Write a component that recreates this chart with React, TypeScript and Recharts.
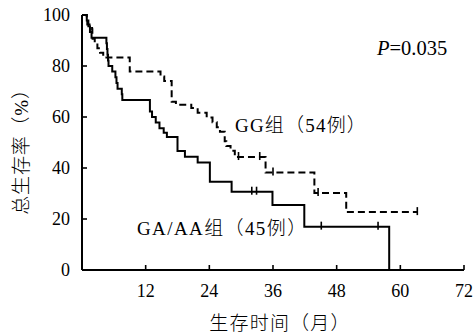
import React from 'react';
import { ComposedChart, Line, Scatter, XAxis, YAxis } from 'recharts';

const xTicks = [12, 24, 36, 48, 60, 72];
const yTicks = [0, 20, 40, 60, 80, 100];

// GG group (54 cases) – dashed
const ggTimes = [0, 0.9, 1.0, 1.9, 1.95, 2.0, 2.4, 2.9, 3.4, 4.0, 9.0, 14.8, 15.5, 16.9, 17.7, 20.6, 21.8, 23.5, 24.6, 25.4, 26.0, 26.9, 27.2, 28.0, 28.8, 34.6, 43.8, 49.8, 63.2];
const ggSurv = [100, 98.1, 96.3, 94.4, 92.6, 90.7, 88.9, 87.0, 85.2, 83.3, 77.8, 75.9, 74.1, 66.0, 64.8, 63.5, 61.7, 59.8, 57.9, 56.0, 54.2, 50.5, 48.6, 46.8, 44.3, 38.2, 30.2, 22.7, 22.7];
const ggCensorTimes = [29.5, 33.5, 36.0, 44.5, 63.2];
const ggCensorSurv = [44.3, 44.3, 38.2, 30.2, 22.7];

// GA/AA group (45 cases) – solid
const gaTimes = [0, 0.9, 1.2, 1.5, 1.8, 4.6, 4.7, 4.8, 4.9, 5.0, 5.7, 6.3, 6.5, 6.7, 7.5, 7.6, 12.8, 13.2, 13.9, 14.6, 15.4, 16.0, 18.0, 19.4, 21.8, 24.1, 28.2, 35.9, 41.9, 57.9];
const gaSurv = [100, 97.8, 95.6, 93.3, 91.1, 88.9, 86.7, 84.4, 82.2, 80.0, 77.8, 75.6, 73.3, 71.1, 68.9, 66.7, 62.2, 60.0, 57.8, 55.6, 53.8, 52.2, 46.7, 44.4, 42.2, 34.6, 30.7, 25.5, 17.0, 0];
const gaCensorTimes = [32.0, 32.9, 45.1, 55.8];
const gaCensorSurv = [30.7, 30.7, 17.0, 17.0];

const ggData = ggTimes.map((t, i) => ({ t, s: ggSurv[i] }));
const gaData = gaTimes.map((t, i) => ({ t, s: gaSurv[i] }));
const ggCensor = ggCensorTimes.map((t, i) => ({ t, s: ggCensorSurv[i] }));
const gaCensor = gaCensorTimes.map((t, i) => ({ t, s: gaCensorSurv[i] }));

const SERIF = '"Liberation Serif", "Times New Roman", "Noto Sans CJK SC", serif';
const MIXED = '"Liberation Serif", "Noto Sans CJK SC", serif';

const Censor = (props: any) => {
  const { cx, cy } = props;
  if (cx == null || cy == null) return null;
  return <line x1={cx} x2={cx} y1={cy - 5} y2={cy + 3} stroke="#000" strokeWidth={1.6} />;
};

export default function App() {
  return (
    <div style={{ position: 'absolute', left: 0, top: 0, background: '#fff' }}>
      <ComposedChart
        width={473}
        height={335}
        margin={{ top: 15, right: 9, bottom: 35, left: 22 }}
      >
        <XAxis
          type="number"
          dataKey="t"
          domain={[0, 72]}
          ticks={xTicks}
          allowDataOverflow
          height={30}
          tickSize={-5}
          tickMargin={19}
          axisLine={{ stroke: '#000', strokeWidth: 2 }}
          tickLine={{ stroke: '#000', strokeWidth: 1.6 }}
          tick={{ fill: '#000', fontSize: 18, fontFamily: SERIF }}
        />
        <YAxis
          type="number"
          dataKey="s"
          domain={[0, 100]}
          ticks={yTicks}
          width={60}
          tickSize={-5}
          tickMargin={17}
          axisLine={{ stroke: '#000', strokeWidth: 2 }}
          tickLine={{ stroke: '#000', strokeWidth: 1.6 }}
          tick={{ fill: '#000', fontSize: 18, fontFamily: SERIF }}
        />
        <Line
          data={ggData}
          dataKey="s"
          type="stepAfter"
          stroke="#000"
          strokeWidth={2}
          strokeDasharray="7 4"
          dot={false}
          activeDot={false}
          isAnimationActive={false}
        />
        <Line
          data={gaData}
          dataKey="s"
          type="stepAfter"
          stroke="#000"
          strokeWidth={2}
          dot={false}
          activeDot={false}
          isAnimationActive={false}
        />
        <Scatter data={ggCensor} dataKey="s" shape={Censor} isAnimationActive={false} />
        <Scatter data={gaCensor} dataKey="s" shape={Censor} isAnimationActive={false} />
        <text x={377} y={55} fontFamily={SERIF} fontSize={20.5} fill="#000">
          <tspan fontStyle="italic">P</tspan>=0.035
        </text>
        <text x={235} y={132} fontFamily={MIXED} fontSize={19} fontWeight={300} letterSpacing={1.2} fill="#000">GG组（54例）</text>
        <text x={137} y={235} fontFamily={MIXED} fontSize={19} fontWeight={300} letterSpacing={1.4} fill="#000">GA/AA组（45例）</text>
        <text x={280} y={330} textAnchor="middle" fontFamily={MIXED} fontSize={19} fontWeight={300} letterSpacing={1.2} fill="#000">生存时间（月）</text>
        <text x={28} y={147} textAnchor="middle" transform="rotate(-90, 28, 147)" fontFamily={MIXED} fontSize={19} fontWeight={300} letterSpacing={0.8} fill="#000">总生存率（%）</text>
      </ComposedChart>
    </div>
  );
}
